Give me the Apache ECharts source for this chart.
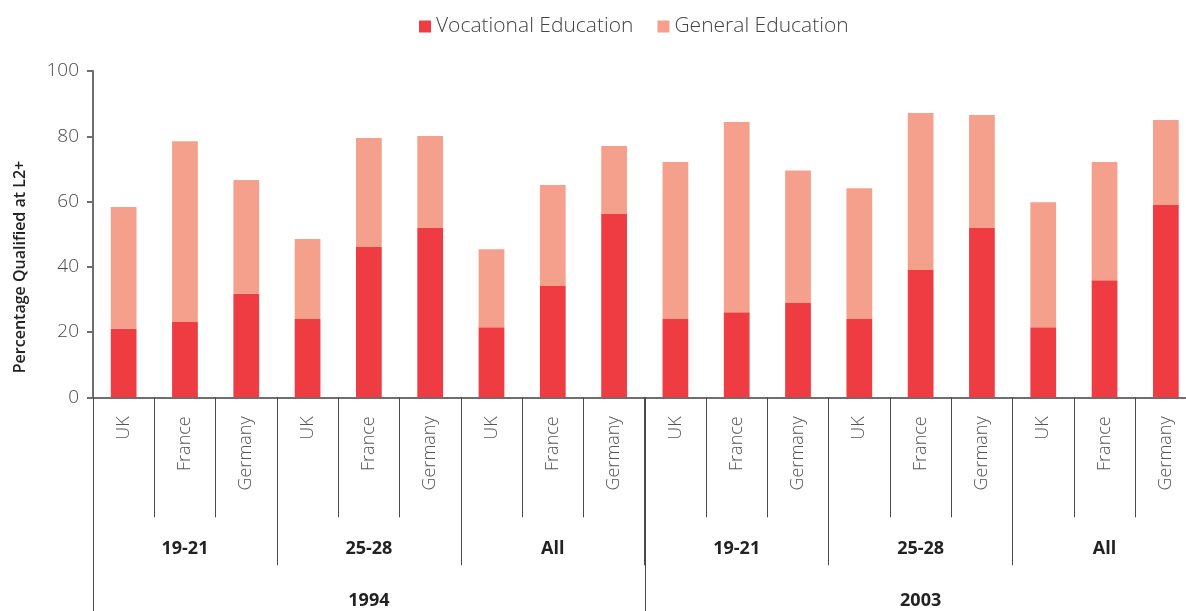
<!DOCTYPE html>
<html>
<head>
<meta charset="utf-8">
<script src="https://cdn.jsdelivr.net/npm/echarts@6/dist/echarts.min.js"></script>
<style>
  html, body { margin: 0; padding: 0; background: #fff; }
  #chart { width: 1186px; height: 611px; }
</style>
</head>
<body>
<div id="chart"></div>
<script>
// Qualification at level 2+ by country, age band and year
const countries = ['UK', 'France', 'Germany', 'UK', 'France', 'Germany', 'UK', 'France', 'Germany',
                   'UK', 'France', 'Germany', 'UK', 'France', 'Germany', 'UK', 'France', 'Germany'];
const ageGroups = ['19-21', '25-28', 'All', '19-21', '25-28', 'All'];
const years = ['1994', '2003'];

const vocational = [21.0, 23.1, 31.7, 24.0, 46.1, 51.9, 21.5, 34.1, 56.2,
                    24.0, 26.1, 28.9, 24.0, 39.0, 51.9, 21.5, 35.9, 58.9];
const general    = [37.3, 55.4, 34.9, 24.5, 33.4, 28.2, 23.9, 31.0, 20.8,
                    48.1, 58.3, 40.6, 40.1, 48.1, 34.6, 38.3, 36.2, 26.1];

const yTicks = { min: 0, max: 100, interval: 20 };

const FONT = '"Open Sans", "Noto Sans", sans-serif';
const LINE = '#4a4a4a';
const VOC_COLOR = '#EF3C43';
const GEN_COLOR = '#F5A08C';

const chart = echarts.init(document.getElementById('chart'), null, { renderer: 'canvas' });

const baseAxis = {
  type: 'category',
  position: 'bottom',
  boundaryGap: true,
  axisLine: { show: false },
  splitLine: { show: false }
};

chart.setOption({
  animation: false,
  textStyle: { fontFamily: FONT },
  legend: {
    top: 11,
    left: 414,
    itemWidth: 12,
    itemHeight: 12,
    itemGap: 24,
    icon: 'rect',
    textStyle: { fontFamily: FONT, fontSize: 21, fontWeight: 300, color: '#444' },
    data: ['Vocational Education', 'General Education']
  },
  grid: {
    left: 93, top: 71, width: 1103.5, height: 326.3,
    containLabel: false,
    outerBoundsMode: 'none'
  },
  xAxis: [
    Object.assign({}, baseAxis, {
      data: countries,
      axisLine: { show: true, lineStyle: { color: '#6e6e6e', width: 2 } },
      axisTick: { show: true, interval: 0, length: 120, lineStyle: { color: LINE, width: 1 } },
      axisLabel: {
        interval: 0, rotate: 90, margin: 19,
        fontFamily: FONT, fontSize: 18, fontWeight: 300, color: '#555'
      }
    }),
    Object.assign({}, baseAxis, {
      data: ageGroups,
      axisTick: { show: true, interval: 0, length: 168, lineStyle: { color: LINE, width: 1 } },
      axisLabel: {
        interval: 0, margin: 143,
        fontFamily: FONT, fontSize: 18, fontWeight: 'bold', color: '#222'
      }
    }),
    Object.assign({}, baseAxis, {
      data: years,
      axisTick: { show: true, interval: 0, length: 230, lineStyle: { color: LINE, width: 1 } },
      axisLabel: {
        interval: 0, margin: 195,
        fontFamily: FONT, fontSize: 18, fontWeight: 'bold', color: '#222'
      }
    })
  ],
  yAxis: {
    type: 'value',
    min: yTicks.min,
    max: yTicks.max,
    interval: yTicks.interval,
    axisLine: { show: true, lineStyle: { color: '#6e6e6e', width: 2 } },
    axisTick: { show: true, length: 6, lineStyle: { color: '#6e6e6e', width: 2 } },
    splitLine: { show: false },
    axisLabel: { margin: 14, fontFamily: FONT, fontSize: 19, fontWeight: 300, color: '#4a4a4a' }
  },
  graphic: [{
    type: 'text',
    x: 20, y: 267,
    rotation: Math.PI / 2,
    style: {
      text: 'Percentage Qualified at L2+',
      fontFamily: FONT, fontSize: 16, fontWeight: 600, fill: '#222',
      align: 'center', verticalAlign: 'middle'
    }
  }],
  series: [
    {
      name: 'Vocational Education',
      type: 'bar',
      stack: 'total',
      xAxisIndex: 0,
      barWidth: '42%',
      itemStyle: { color: VOC_COLOR },
      data: vocational
    },
    {
      name: 'General Education',
      type: 'bar',
      stack: 'total',
      xAxisIndex: 0,
      barWidth: '42%',
      itemStyle: { color: GEN_COLOR },
      data: general
    }
  ]
});
</script>
</body>
</html>
